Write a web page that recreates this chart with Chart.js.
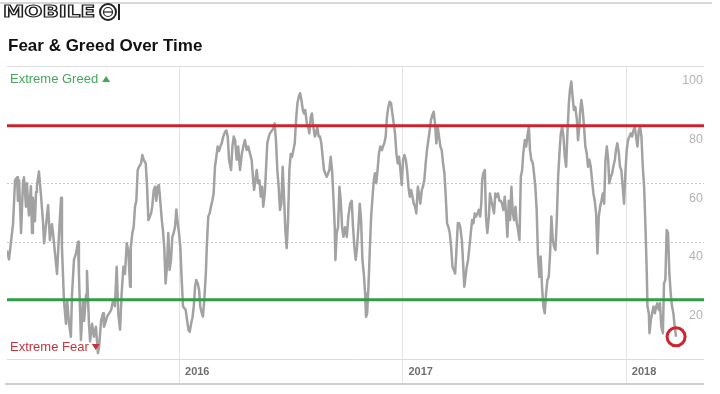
<!DOCTYPE html>
<html><head><meta charset="utf-8">
<style>html,body{margin:0;padding:0;background:#fff;}canvas{display:block;}</style>
</head><body>
<canvas id="c" width="720" height="394"></canvas>
<script src="https://cdn.jsdelivr.net/npm/chart.js@4.4.1/dist/chart.umd.min.js"></script>
<script>
const chartTitle = 'Fear & Greed Over Time';
const greedText = 'Extreme Greed';
const fearText = 'Extreme Fear';
const watermarkText = 'MOBILE';
const yearTicks = [2016, 2017, 2018];
const yearLabels = ['2016', '2017', '2018'];
const valueTicks = [20, 40, 60, 80, 100];
const greedLevel = 79.6;
const fearLevel = 20.2;
const xMin = 2015.23, xMax = 2018.35;

// time in decimal years
const dates = [
2015.230,2015.239,2015.257,2015.266,2015.275,2015.279,2015.284,2015.293,2015.302,2015.306,2015.315,2015.319,2015.328,2015.337,2015.342,2015.346,2015.355,2015.360,2015.364,2015.373,2015.382,2015.391,2015.396,2015.405,2015.414,2015.422,2015.431,2015.436,2015.445,2015.454,2015.463,2015.472,2015.476,2015.485,2015.494,2015.499,2015.508,2015.516,2015.521,2015.530,2015.539,2015.548,2015.552,2015.561,2015.570,2015.575,2015.584,2015.588,2015.597,2015.602,2015.611,2015.619,2015.628,2015.637,2015.642,2015.651,2015.660,2015.664,2015.673,2015.678,2015.687,2015.696,2015.705,2015.713,
2015.721,2015.728,2015.736,2015.743,2015.751,2015.758,2015.766,2015.773,2015.781,2015.784,2015.791,2015.797,2015.803,2015.809,2015.815,2015.821,2015.830,2015.836,2015.842,2015.851,2015.857,2015.863,2015.869,2015.875,2015.880,2015.887,2015.893,2015.898,2015.905,2015.910,2015.916,2015.923,2015.928,2015.934,2015.940,2015.946,2015.952,2015.958,2015.964,2015.970,2015.976,2015.982,2015.988,2015.994,2016.000,2016.006,2016.012,2016.018,2016.024,2016.030,2016.036,2016.042,2016.048,2016.054,2016.060,2016.066,2016.072,2016.077,2016.084,2016.090,2016.095,2016.102,2016.107,2016.113,2016.120,2016.125,2016.131,2016.137,2016.143,2016.149,2016.155,2016.161,2016.167,2016.173,2016.179,2016.185,2016.191,2016.198,2016.206,2016.212,2016.218,2016.224,2016.233,2016.239,2016.245,
2016.251,2016.258,2016.265,2016.273,2016.281,2016.288,2016.295,2016.303,2016.310,2016.318,2016.325,2016.330,2016.336,2016.342,2016.348,2016.354,2016.360,2016.366,2016.372,2016.377,2016.384,2016.390,2016.395,2016.402,2016.407,2016.416,2016.422,2016.428,2016.434,2016.440,2016.446,2016.452,2016.458,2016.464,2016.470,2016.476,2016.482,2016.488,2016.494,2016.500,2016.506,2016.512,2016.518,2016.524,2016.530,2016.536,2016.542,2016.548,2016.554,2016.560,2016.565,2016.572,2016.578,2016.583,2016.590,2016.595,2016.601,2016.608,2016.613,2016.619,2016.625,2016.631,2016.637,2016.643,2016.649,2016.655,2016.661,2016.667,2016.673,2016.679,2016.685,2016.691,2016.697,2016.700,2016.706,2016.712,2016.718,2016.724,2016.730,2016.736,
2016.743,2016.751,2016.758,2016.766,2016.773,2016.779,2016.785,2016.791,2016.797,2016.803,2016.809,2016.815,2016.821,2016.827,2016.833,2016.837,2016.842,2016.848,2016.854,2016.860,2016.865,2016.872,2016.877,2016.883,2016.890,2016.895,2016.901,2016.908,2016.913,2016.919,2016.925,2016.931,2016.937,2016.943,2016.949,2016.955,2016.961,2016.967,2016.973,2016.979,2016.985,2016.991,2016.997,2017.003,2017.009,2017.015,2017.021,2017.027,2017.033,2017.039,2017.045,2017.051,2017.057,2017.062,2017.069,2017.074,2017.080,2017.087,2017.092,2017.098,2017.104,2017.110,2017.116,2017.122,2017.128,2017.134,2017.140,2017.146,2017.152,2017.158,2017.164,2017.170,2017.176,2017.182,2017.188,2017.194,2017.200,2017.206,2017.212,2017.218,2017.224,2017.230,2017.236,2017.241,2017.248,2017.254,2017.259,2017.266,2017.271,2017.277,
2017.288,2017.294,2017.300,2017.306,2017.312,2017.318,2017.324,2017.330,2017.336,2017.342,2017.348,2017.353,2017.357,2017.362,2017.369,2017.374,2017.380,2017.387,2017.392,2017.398,2017.404,2017.410,2017.416,2017.422,2017.428,2017.434,2017.440,2017.446,2017.452,2017.458,2017.464,2017.470,2017.476,2017.482,2017.488,2017.494,2017.500,2017.506,2017.512,2017.518,2017.524,2017.530,2017.536,2017.541,2017.548,2017.554,2017.559,2017.566,2017.571,2017.577,2017.584,2017.589,2017.595,2017.601,2017.607,2017.613,2017.619,2017.625,2017.631,2017.637,2017.643,2017.649,2017.655,2017.661,2017.667,2017.673,2017.679,2017.685,2017.691,2017.697,2017.703,2017.709,2017.715,2017.721,2017.727,2017.733,2017.738,2017.745,2017.750,2017.756,2017.763,2017.768,2017.774,2017.781,2017.786,2017.792,
2017.795,2017.801,2017.807,2017.813,2017.819,2017.825,2017.831,2017.837,2017.843,2017.849,2017.855,2017.861,2017.867,2017.873,2017.879,2017.885,2017.891,2017.897,2017.903,2017.909,2017.915,2017.921,2017.926,2017.933,2017.939,2017.944,2017.951,2017.956,2017.962,2017.969,2017.974,2017.980,2017.986,2017.992,2017.998,2018.004,2018.010,2018.016,2018.022,2018.028,2018.034,2018.040,2018.046,2018.052,2018.058,2018.064,2018.070,2018.076,2018.082,2018.088,2018.094,2018.097,2018.103,2018.106,2018.112,2018.118,2018.124,2018.130,2018.136,2018.141,2018.148,2018.153,2018.159,2018.166,2018.171,2018.177,2018.183,2018.189,2018.195,2018.201,2018.207,2018.213,2018.219,2018.225
];

const fgIndex = [
37,34,46,61,62,54,61,43,61,62,52,60,49,59,43,55,47,57,59,64,56,47,39.5,46,52.5,40.6,46,43,36,29,43,55,38,20,12,20,12,7.6,22,34,36,40,29,6.5,20,13,22,30,12,6,12,7.6,11,2,4,13,15.6,11,13,14.5,15.6,16.7,20,18,
31.5,15.6,10,22,31.5,29,39.5,37,24.7,38,43,45,52,54,64.5,65.6,66.8,69.6,68,66.8,58.8,47.4,48.5,49.7,52,57.7,58.8,54,58.8,59.4,54,47.4,44,38,25.8,31.5,43,30.4,33.8,41.7,43,45,51,46.5,43,38,27,17.9,17.3,16.7,13.3,10,9.3,12,14,17.9,24.7,27,25.8,23.5,17.9,15.6,14.5,20,29,39.5,48.6,49.7,52,54,56.5,65.6,69,72.5,71,72.5,73.6,75.9,77.5,78,75.9,68,64.5,72.5,75.9,
74.7,68,72.5,64.5,70,72.5,74.7,71.3,72.5,70,68,63,57.7,61,64.5,60,61,55.4,58.8,52,56.5,65.6,73.6,75.9,77,78,78.7,80.4,74.7,64.5,58.8,50.9,53,65.6,55.4,44,37.8,47.4,64.5,70,69,71.3,73.6,81.6,87.3,89.5,90.7,88.4,85,83.8,85,80.4,79.3,77,82.7,83.8,79.3,75.9,77,79.3,75.9,75.9,73.6,69,64.5,63.3,62.2,63.3,64.5,69,64.5,55.4,45,33.8,43,45,58.8,54,45,41.7,
45,41.7,48.6,53,54,45,38.3,33.8,38.3,45,53,47.4,33.8,29.2,22.4,14.4,15.5,24.7,37.2,48.6,54,61,63.4,60,65.6,70.2,72.5,71.3,72.5,73.6,75.9,82.7,86,87.8,87.3,83.8,80.4,77,70.2,66.8,69,64.5,59.4,68,69.6,68,64.5,58.8,55.4,57.7,55.4,53,52,49.7,58.8,56.5,53,57.7,58.8,61,66.8,71.3,74.7,78,81.6,83.3,84.4,80.4,73.6,79.3,75.9,72.5,71.3,66.8,63.4,55.4,46.3,45,43,38.3,31.5,30.4,29.2,36,46.3,46.3,45,40.6,33.8,24.7,
31.5,33.8,38.3,43,47.4,46.3,49.7,48.6,49.7,50.9,48.6,53,61,63.4,64.5,48.6,43,48.6,56.5,54,52,49.7,56.5,55.4,56.5,54,54,53,50.9,55.4,49.7,41.7,54,47.4,58.8,49.7,47.4,52,46.3,44,40.6,62.2,64.5,70.2,74.7,72.5,75.9,79.3,71.3,68,66.8,63.4,58.8,50.9,35,28,35,24.7,17.9,15.6,22.4,27,28,36,48.6,40.6,38.3,37.2,47.4,62.2,70.2,77,79.3,75.9,69,65.6,75.9,87.3,91.8,94.7,88.4,85,86,81.6,74.7,79.3,
83.8,88.4,85,79.3,72.5,70.2,65.6,68,65.6,61,56.5,54,49.7,36,48.6,52,54,56.5,53,68,72.5,68,60,62.2,63.4,65.6,68,71.3,73.6,70.2,65.6,64.5,58.8,53,63.4,71.3,74.7,75.9,77,75.9,78,79.3,75.9,72.5,78,79.3,75.9,65.6,58.8,45,29.2,17.9,15.6,8.8,13.3,15.6,17.9,15.6,17.9,19,16.7,19,11,8.8,25.8,27,44,43,29.2,22.4,17.9,15.6,11,7.6
];

const lastIdx = dates.length - 1;

const decorPlugin = {
  id: 'decor',
  beforeDatasetsDraw(chart) {
    const {ctx, chartArea: a, scales: {x, y}} = chart;
    ctx.save();
    ctx.strokeStyle = '#e4e4e4';
    ctx.lineWidth = 1;
    yearTicks.forEach(t => {
      const px = Math.round(x.getPixelForValue(t)) + 0.5;
      ctx.beginPath(); ctx.moveTo(px, a.top); ctx.lineTo(px, a.bottom + 25); ctx.stroke();
    });
    ctx.strokeStyle = '#c8c8c8';
    ctx.setLineDash([2, 2]);
    valueTicks.filter(v => v < 100).forEach(v => {
      const py = Math.round(y.getPixelForValue(v)) + 0.5;
      ctx.beginPath(); ctx.moveTo(a.left, py); ctx.lineTo(a.right, py); ctx.stroke();
    });
    ctx.setLineDash([]);
    ctx.strokeStyle = '#dcdcdc';
    [100, 0].forEach(v => {
      const py = Math.round(y.getPixelForValue(v)) + 0.5;
      ctx.beginPath(); ctx.moveTo(a.left, py); ctx.lineTo(a.right, py); ctx.stroke();
    });
    ctx.strokeStyle = '#cfcfcf';
    ctx.lineWidth = 2;
    ctx.beginPath(); ctx.moveTo(a.left - 2, a.bottom + 25); ctx.lineTo(a.right, a.bottom + 25); ctx.stroke();
    ctx.restore();
  },
  afterDatasetsDraw(chart) {
    const {ctx, scales: {x, y}} = chart;
    ctx.save();
    ctx.strokeStyle = '#d0242c';
    ctx.lineWidth = 3;
    ctx.beginPath();
    ctx.arc(x.getPixelForValue(dates[lastIdx]), y.getPixelForValue(fgIndex[lastIdx]), 9, 0, Math.PI * 2);
    ctx.stroke();
    ctx.restore();
  },
  afterDraw(chart) {
    const {ctx, chartArea: a, scales: {x, y}} = chart;
    ctx.save();
    ctx.strokeStyle = '#d8d8d8';
    ctx.lineWidth = 2;
    ctx.beginPath(); ctx.moveTo(0, 3); ctx.lineTo(712, 3); ctx.stroke();
    // watermark logo
    ctx.fillStyle = '#fff';
    ctx.fillRect(2, 4, 124, 18);
    ctx.strokeStyle = '#222';
    ctx.lineWidth = 1.2;
    ctx.font = 'bold 16px "DejaVu Sans"';
    ctx.textBaseline = 'middle';
    ctx.textAlign = 'left';
    const ww = ctx.measureText(watermarkText).width;
    ctx.save();
    ctx.translate(3, 13);
    ctx.scale(92 / ww, 1);
    ctx.strokeText(watermarkText, 0, 0);
    ctx.restore();
    ctx.lineWidth = 2;
    ctx.beginPath(); ctx.arc(108, 12, 8, 0, Math.PI * 2); ctx.stroke();
    ctx.lineWidth = 1.2;
    ctx.beginPath(); ctx.arc(108, 12, 4.5, 0, Math.PI * 2); ctx.stroke();
    ctx.beginPath(); ctx.moveTo(104, 12); ctx.lineTo(112, 12); ctx.stroke();
    ctx.lineWidth = 2;
    ctx.beginPath(); ctx.moveTo(119, 4); ctx.lineTo(119, 20); ctx.stroke();

    // title
    ctx.fillStyle = '#111';
    ctx.font = 'bold 17px "Liberation Sans", Arial, sans-serif';
    ctx.textBaseline = 'alphabetic';
    ctx.fillText(chartTitle, 8, 51);

    // zone labels
    ctx.font = '13px "Liberation Sans", Arial, sans-serif';
    ctx.textBaseline = 'middle';
    ctx.fillStyle = '#47a75d';
    ctx.fillText(greedText, 10, 79);
    let w = ctx.measureText(greedText).width;
    ctx.beginPath(); ctx.moveTo(10 + w + 4, 82); ctx.lineTo(10 + w + 12, 82); ctx.lineTo(10 + w + 8, 76); ctx.closePath(); ctx.fill();
    ctx.fillStyle = '#c4343d';
    ctx.fillText(fearText, 10, 347);
    w = ctx.measureText(fearText).width;
    ctx.beginPath(); ctx.moveTo(10 + w + 3, 344); ctx.lineTo(10 + w + 11, 344); ctx.lineTo(10 + w + 7, 350); ctx.closePath(); ctx.fill();

    // value tick labels
    ctx.font = '12.5px "Liberation Sans", Arial, sans-serif';
    ctx.fillStyle = '#b3b3b3';
    ctx.textAlign = 'right';
    valueTicks.forEach(v => {
      ctx.fillText(String(v), a.right - 1, y.getPixelForValue(v) + 15);
    });
    // year labels
    ctx.font = 'bold 11px "Liberation Sans", Arial, sans-serif';
    ctx.fillStyle = '#707070';
    ctx.textAlign = 'left';
    yearTicks.forEach((t, i) => {
      ctx.fillText(yearLabels[i], x.getPixelForValue(t) + 6, a.bottom + 13);
    });
    ctx.restore();
  }
};

new Chart(document.getElementById('c'), {
  type: 'line',
  data: {
    datasets: [
      {
        label: 'Fear & Greed',
        data: dates.map((d, i) => ({x: d, y: fgIndex[i]})),
        borderColor: '#a2a2a2',
        borderWidth: 2.5,
        pointRadius: 0,
        tension: 0,
        borderJoinStyle: 'round',
        order: 3
      },
      {
        label: 'Extreme Greed',
        data: [{x: xMin, y: greedLevel}, {x: xMax, y: greedLevel}],
        borderColor: '#c9252e',
        borderWidth: 3,
        pointRadius: 0,
        order: 1
      },
      {
        label: 'Extreme Fear',
        data: [{x: xMin, y: fearLevel}, {x: xMax, y: fearLevel}],
        borderColor: '#2f9e48',
        borderWidth: 3,
        pointRadius: 0,
        order: 1
      }
    ]
  },
  options: {
    responsive: false,
    animation: false,
    devicePixelRatio: 1,
    layout: {padding: {left: 7, right: 16, top: 66, bottom: 35}},
    scales: {
      x: {type: 'linear', min: xMin, max: xMax, display: false},
      y: {min: 0, max: 100, display: false}
    },
    plugins: {legend: {display: false}, tooltip: {enabled: false}}
  },
  plugins: [decorPlugin]
});
</script>
</body></html>
